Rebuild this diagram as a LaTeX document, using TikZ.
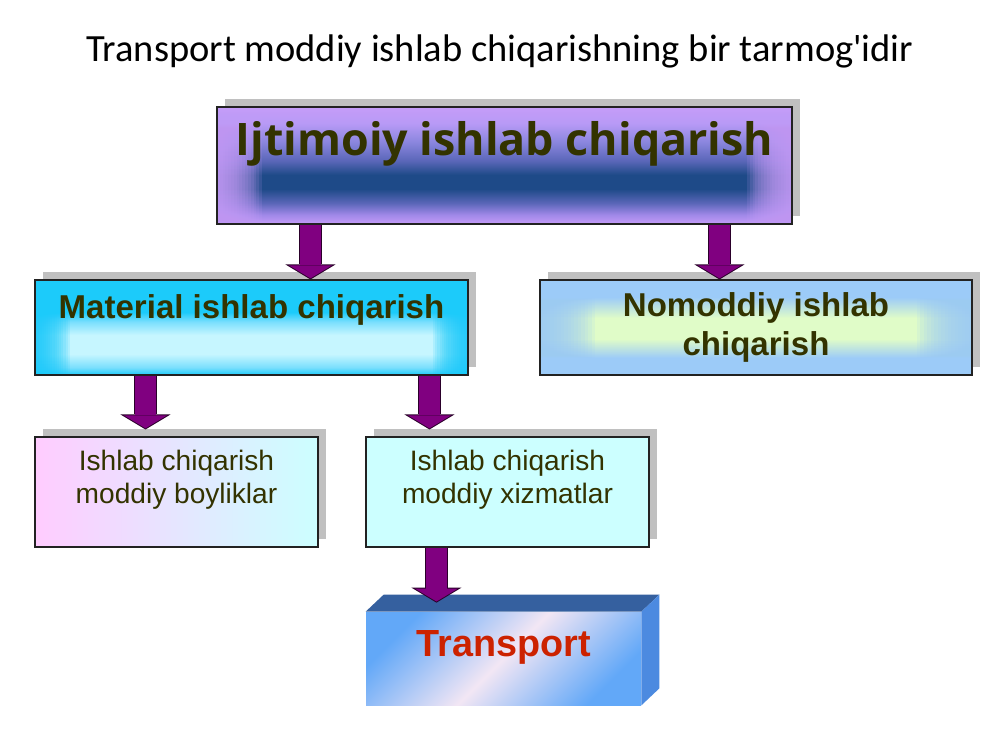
\documentclass[tikz,border=0pt]{standalone}
\usepackage{fontspec}
\setmainfont{Liberation Sans}
\newfontfamily\titlefont{Carlito}
\newfontfamily\headfont{Open Sans}
\usetikzlibrary{arrows.meta,calc,shadows}

\definecolor{boxtext}{HTML}{333300}
\definecolor{boxline}{HTML}{222222}
\definecolor{shadowgray}{HTML}{C0C0C0}
\definecolor{arrowfill}{HTML}{800080}
\definecolor{arrowline}{HTML}{2A002A}
\definecolor{ijtEdge}{HTML}{C59CF8}
\definecolor{ijtSoft}{HTML}{A088E8}
\definecolor{ijtMid}{HTML}{5A66B8}
\definecolor{ijtDeep}{HTML}{1E4A88}
\definecolor{ijtUp}{HTML}{8A86DE}
\definecolor{ijtTop}{HTML}{B89AF6}
\definecolor{matEdge}{HTML}{1CCBFA}
\definecolor{matSoft}{HTML}{7ADFFD}
\definecolor{matLight}{HTML}{C6F6FF}
\definecolor{nomEdge}{HTML}{9CCBF8}
\definecolor{nomLight}{HTML}{E0FCC8}
\definecolor{pinkA}{HTML}{FFCCFF}
\definecolor{aquaA}{HTML}{CCFFFF}
\definecolor{trBlue}{HTML}{62A8F8}
\definecolor{trPale}{HTML}{F2E6F4}
\definecolor{trTop}{HTML}{35609F}
\definecolor{trSide}{HTML}{4C8AE0}
\definecolor{trRed}{HTML}{CC2200}

\pgfdeclareverticalshading{ijtshade}{100bp}{color(0bp)=(ijtEdge); color(25bp)=(ijtEdge); color(29bp)=(ijtSoft); color(34bp)=(ijtMid); color(40bp)=(ijtDeep); color(46bp)=(ijtDeep); color(52bp)=(ijtMid); color(60bp)=(ijtUp); color(68bp)=(ijtTop); color(75bp)=(ijtEdge); color(100bp)=(ijtEdge)}
\pgfdeclareverticalshading{matshade}{100bp}{color(0bp)=(matEdge); color(25bp)=(matEdge); color(29bp)=(matSoft); color(36bp)=(matLight); color(46bp)=(matLight); color(53bp)=(matSoft); color(58bp)=(matEdge); color(75bp)=(matEdge); color(100bp)=(matEdge)}
\pgfdeclareverticalshading{nomshade}{100bp}{color(0bp)=(nomEdge); color(25bp)=(nomEdge); color(34bp)=(nomEdge); color(44bp)=(nomLight); color(55bp)=(nomLight); color(66bp)=(nomEdge); color(75bp)=(nomEdge); color(100bp)=(nomEdge)}

\begin{document}
\begin{tikzpicture}[x=0.2mm,y=-0.2mm,
  box/.style={draw=boxline,line width=0.6pt,drop shadow={shadow xshift=1.6mm,shadow yshift=1.7mm,fill=shadowgray,opacity=1}},
  sidefade/.style n args={2}{path picture={
    \foreach \k in {1,...,16}{
      \fill[#1,opacity=0.14] (path picture bounding box.north west) rectangle ([xshift=\k*#2/16]path picture bounding box.south west);
      \fill[#1,opacity=0.14] (path picture bounding box.north east) rectangle ([xshift=-\k*#2/16]path picture bounding box.south east);}}},
  boldtext/.style={text=boxtext,font=\bfseries\fontsize{18.8}{22.5}\selectfont},
  boxlabel/.style={align=center,text=boxtext,font=\fontsize{16}{18.7}\selectfont},
  arrowout/.style={line width=4.6mm,draw=arrowline,-{Triangle[width=10mm,length=3mm,line width=0pt]}},
  arrowin/.style={line width=4.2mm,draw=arrowfill,shorten >=0.23mm,-{Triangle[width=8.56mm,length=2.57mm,line width=0pt]}}]
\fill[white] (0,0) rectangle (1000,750);
\useasboundingbox (0,0) rectangle (1000,750);
\node[anchor=base,font=\titlefont\fontsize{21.9}{26}\selectfont] (title) at (500,61) {Transport moddiy ishlab chiqarishning bir tarmog\textquotesingle idir};
\node[box,shade,shading=ijtshade,sidefade={ijtEdge}{9mm},minimum width=115mm,text height=9.6mm,text depth=13.8mm,inner ysep=0pt,text=boxtext,font=\headfont\bfseries\fontsize{25.5}{30}\selectfont] (ijt) at (504.5,165.5) {Ijtimoiy ishlab chiqarish};
\node[box,shade,shading=matshade,sidefade={matEdge}{7mm},boldtext,minimum width=86.6mm,text height=7.6mm,text depth=11.4mm,inner ysep=0pt] (mat) at (251.5,327.5) {Material ishlab chiqarish};
\node[box,shade,shading=nomshade,sidefade={nomEdge}{11mm},boldtext,align=center,minimum width=86.4mm,minimum height=19mm] (nom) at (756,327.5) {Nomoddiy ishlab\\chiqarish};
\node[box,left color=pinkA,right color=aquaA,minimum width=56.6mm,minimum height=22mm] (bol) at (176.5,492) {};
\node[box,fill=aquaA,minimum width=56.6mm,minimum height=22mm] (xiz) at (507.5,492) {};
\node[boxlabel] (bolT) at (176.5,480) {Ishlab chiqarish\\moddiy boyliklar};
\node[boxlabel] (xizT) at (507.5,480) {Ishlab chiqarish\\moddiy xizmatlar};
\node[left color=trBlue,right color=trBlue,middle color=trPale,shading angle=45,minimum width=55mm,text height=8.8mm,text depth=9.8mm,inner ysep=0pt,text=trRed,font=\bfseries\fontsize{21.5}{26}\selectfont] (trans) at (503.5,658.5) {Transport};
\fill[trTop] (trans.north west) -- ++(18,-17) -- ($(trans.north east)+(18,-17)$) -- (trans.north east) -- cycle;
\fill[trSide] (trans.north east) -- ++(18,-17) -- ($(trans.south east)+(18,-17)$) -- (trans.south east) -- cycle;
\coordinate (a1) at ($(ijt.south west)+(94,0)$);
\coordinate (e1) at (a1 |- mat.north);
\coordinate (a2) at ($(ijt.south west)+(503,0)$);
\coordinate (e2) at (a2 |- nom.north);
\coordinate (a3) at ($(mat.south west)+(111,0)$);
\coordinate (e3) at ($(a3 |- bol.north)+(0,-7)$);
\coordinate (a4) at ($(mat.south west)+(395,0)$);
\coordinate (e4) at ($(a4 |- xiz.north)+(0,-7)$);
\coordinate (a5) at ($(xiz.south west)+(71,0)$);
\coordinate (e5) at ($(a5 |- trans.north)+(0,-9)$);
\foreach \s/\e in {a1/e1,a2/e2,a3/e3,a4/e4,a5/e5}{
  \draw[arrowout] (\s) -- (\e);
  \draw[arrowin] (\s) -- (\e);
}
\end{tikzpicture}
\end{document}
